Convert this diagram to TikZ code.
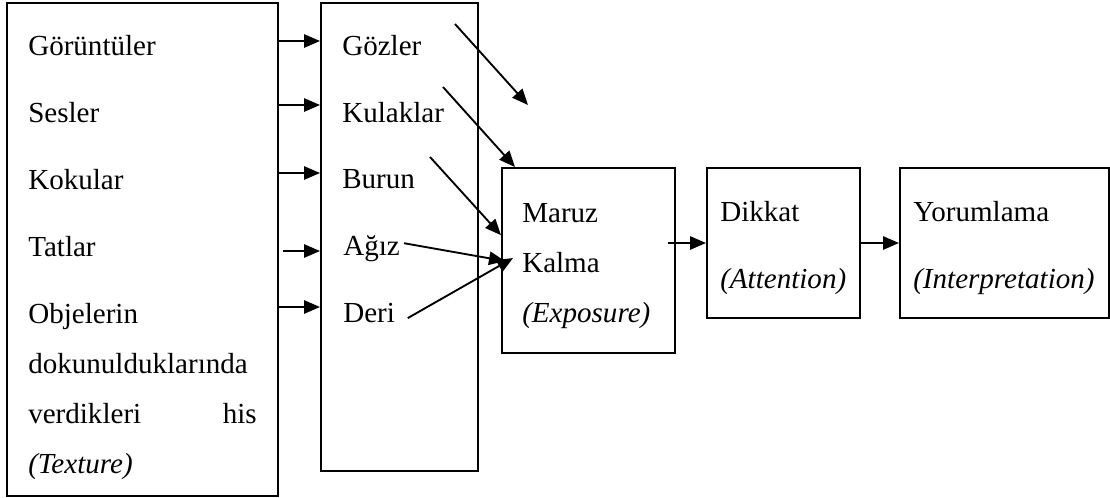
\documentclass[tikz,border=0pt]{standalone}
\usepackage{fontspec}
\setmainfont{Liberation Serif}
\usetikzlibrary{arrows.meta}

\tikzset{
  box/.style={draw, line width=1.5pt, inner sep=0pt},
  txt/.style={anchor=base west, inner sep=0pt, font=\fontsize{21.8}{26}\selectfont},
  arr/.style={-{Triangle[length=12pt,width=10pt]}, line width=1.4pt},
}

\begin{document}
\begin{tikzpicture}[x=0.75pt, y=-0.75pt]
  \useasboundingbox (0,0) rectangle (1110,497);
  % Boxes
  \node[box, minimum width=203.25pt, minimum height=369.75pt] (stimuli) at (142.5,249.5) {};
  \node[box, minimum width=117.75pt, minimum height=351pt] (senses) at (399.5,237) {};
  \node[box, minimum width=129.75pt, minimum height=138.75pt] (exposure) at (588.5,260.5) {};
  \node[box, minimum width=114.75pt, minimum height=112.5pt] (attention) at (783.5,243) {};
  \node[box, minimum width=156.75pt, minimum height=112.5pt] (interp) at (1004.5,243) {};

  % Labels, stimuli
  \node[txt] (goruntuler) at (28,55) {Görüntüler};
  \node[txt] (sesler) at (28,122) {Sesler};
  \node[txt] (kokular) at (28,189) {Kokular};
  \node[txt] (tatlar) at (28,256) {Tatlar};
  \node[txt] (objelerin) at (28,323) {Objelerin};
  \node[txt] (dokunul) at (28,373) {dokunulduklarında};
  \node[txt] (verdikleri) at (28,423) {verdikleri};
  \node[txt, anchor=base east] (his) at (257,423) {his};
  \node[txt] (texture) at (28,473) {\textit{(Texture)}};
  % Labels, senses
  \node[txt] (gozler) at (342,55) {Gözler};
  \node[txt] (kulaklar) at (342,122) {Kulaklar};
  \node[txt] (burun) at (342,188) {Burun};
  \node[txt] (agiz) at (343,255) {Ağız};
  \node[txt] (deri) at (343,322) {Deri};
  % Labels, stages
  \node[txt] (maruz) at (522,222) {Maruz};
  \node[txt] (kalma) at (522,272) {Kalma};
  \node[txt] (exp) at (522,322) {\textit{(Exposure)}};
  \node[txt] (dikkat) at (720,221) {Dikkat};
  \node[txt] (att) at (720,288) {\textit{(Attention)}};
  \node[txt] (yorum) at (913,221) {Yorumlama};
  \node[txt] (interpr) at (913,288) {\textit{(Interpretation)}};

  % Stimuli to senses
  \foreach \dst/\dy in {gozler/10.5pt, kulaklar/12.75pt, burun/11.25pt, deri/11.25pt}
    \draw[arr] ([yshift=\dy]\dst.base -| stimuli.east) -- ([yshift=\dy]\dst.base -| senses.west);
  \draw[arr] ([xshift=3pt,yshift=3pt]agiz.base -| stimuli.east) -- ([yshift=3pt]agiz.base -| senses.west);

  % Senses to exposure
  \coordinate (gazeA) at (455,24);
  \coordinate (gazeB) at (528,105);
  \coordinate (earA) at (443,87);
  \coordinate (noseA) at (430,157);
  \draw[arr] (gazeA) -- (gazeB);
  \draw[arr] (earA) -- ([xshift=10.5pt]exposure.north west);
  \draw[arr] (noseA) -- ([yshift=19pt]exposure.west);
  \draw[arr] ([xshift=3pt,yshift=3.75pt]agiz.east) -- ([xshift=-12.75pt,yshift=0.75pt]kalma.west);
  \draw[arr] ([xshift=9.4pt,yshift=-4.2pt]deri.east) -- ([xshift=-6.75pt,yshift=3pt]kalma.west);

  % Stages
  \draw[arr] ([xshift=-6pt]attention.west -| exposure.east) -- (attention.west);
  \draw[arr] (attention.east) -- (interp.west);
\end{tikzpicture}
\end{document}
